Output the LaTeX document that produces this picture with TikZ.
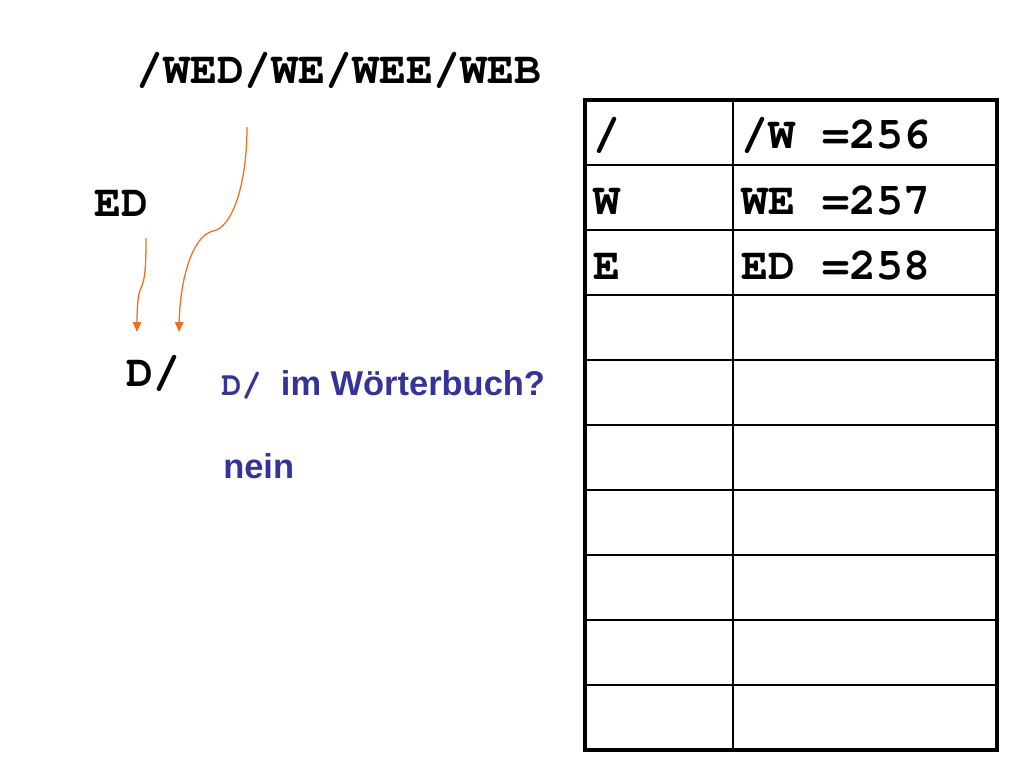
\documentclass[tikz,border=0pt]{standalone}
\usepackage{fontspec}
\setmainfont{Liberation Sans}
\newfontfamily\courfont{texgyrecursor}[Extension=.otf, UprightFont=*-regular, BoldFont=*-bold]
\usetikzlibrary{arrows.meta}
\definecolor{lzwblue}{RGB}{51,51,153}
\definecolor{lzworange}{RGB}{240,110,30}
\begin{document}
\begin{tikzpicture}[x=0.025cm,y=-0.025cm,
    code/.style={font=\courfont\bfseries\fontsize{32}{38}\selectfont, inner sep=0pt, anchor=base west},
    note/.style={font=\bfseries\fontsize{24.5}{29}\selectfont, text=lzwblue, inner sep=0pt, anchor=base west},
    flow/.style={draw=lzworange, line width=0.9pt, -{Triangle[length=7pt,width=6pt]}},
    grid/.style={line width=1.3pt}]
    \useasboundingbox (0,0) rectangle (1024,768);
    % Input string
    \node[code] (input) at (136,84) {/WED/WE/WEE/WEB};
    \node[code] (ed) at (94,216) {ED};
    \node[code] (dslash) at (126,386) {D/};
    % Question
    \node[note] (query) at (221,395) {{\courfont\fontsize{24}{28}\selectfont D/}\ \ im Wörterbuch?};
    \node[note] (answer) at (223,478) {nein};

    % Arrows
    \coordinate (edfoot) at (146,238);
    \coordinate (edtip) at (137,332);
    \coordinate (inputfoot) at (247,127);
    \coordinate (inputtip) at (179,332);
    \draw[flow] (edfoot) .. controls (146,268) and (145,280) .. (141,288)
        .. controls (138,294) and (137,306) .. (edtip);
    \draw[flow] (inputfoot) .. controls (247,185) and (232,228) .. (213,231)
        .. controls (192,236) and (180,280) .. (inputtip);

    % Dictionary table
    \foreach \r in {1,...,9}
        \draw[grid] (585,{100+65*\r}) -- (997,{100+65*\r});
    \draw[grid] (733,100) -- (733,750);
    \draw[line width=2.2pt] (585,100) rectangle (997,750);
    \node[code] (k1) at (593,149) {/};
    \node[code] (v1) at (741,149) {/W =256};
    \node[code] (k2) at (593,214) {W};
    \node[code] (v2) at (741,214) {WE =257};
    \node[code] (k3) at (593,279) {E};
    \node[code] (v3) at (741,279) {ED =258};
\end{tikzpicture}
\end{document}
